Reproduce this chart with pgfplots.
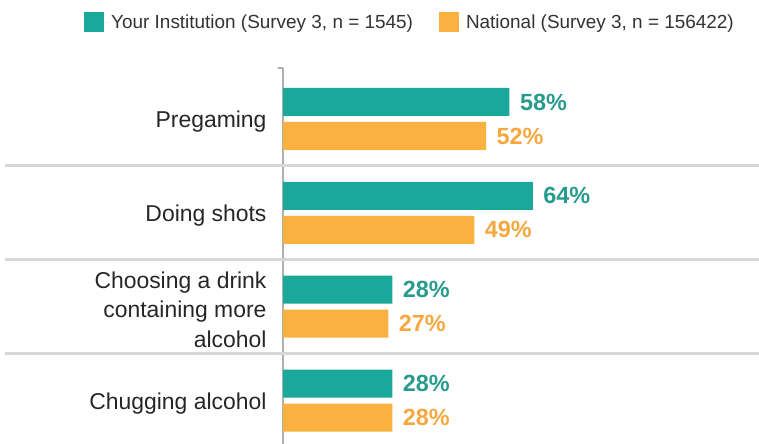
\documentclass[border=0pt]{standalone}
\usepackage{pgfplots}
\pgfplotsset{compat=1.18}
\usepackage{fontspec}
\setmainfont{Liberation Sans}
\definecolor{teal1}{RGB}{26,168,154}
\definecolor{orng}{RGB}{250,177,64}
\definecolor{tealtxt}{RGB}{40,155,142}
\definecolor{orngtxt}{RGB}{246,168,62}
\definecolor{sepgray}{RGB}{215,215,215}
\definecolor{axgray}{RGB}{175,175,175}
\begin{document}
\begin{tikzpicture}
\useasboundingbox (0,0) rectangle (759bp,444bp);
\begin{axis}[
  at={(283bp,0bp)}, anchor=south west,
  scale only axis, width=476bp, height=376bp,
  xmin=0, xmax=121.9, ymin=-0.543, ymax=3.463, y dir=reverse,
  axis x line=none, axis y line*=left,
  axis line style={draw=axgray, line width=1.5bp},
  ytick={0,1,2,3},
  yticklabels={Pregaming, Doing shots, {Choosing a drink\\containing more\\alcohol}, Chugging alcohol},
  yticklabel style={align=right, font=\fontsize{23}{29.5}\selectfont, text=black!85, xshift=-13bp, yshift=-3bp},
  major tick length=0,
  xbar, bar width=28bp,
  clip=false,
  point meta=x,
  /pgf/number format/assume math mode=true,
  nodes near coords={\pgfmathprintnumber{\pgfplotspointmeta}\%},
  nodes near coords style={font=\bfseries\fontsize{23.5}{27}\selectfont, anchor=west, xshift=7bp},
  legend style={at={(-0.418,1.149)}, anchor=north west, draw=none, fill=none, inner sep=0pt,
    font=\fontsize{19}{22}\selectfont, text=black!80},
  legend columns=2,
  /tikz/every even column/.append style={column sep=24bp},
  legend cell align=left,
]
\addplot[fill=teal1, draw=none, bar shift=17bp, nodes near coords style={text=tealtxt},
  legend image code/.code={\fill[teal1] (0bp,-10bp) rectangle (20bp,10bp); \path (0bp,0bp) -- (25bp,0bp);}]
  coordinates {(58,0) (64,1) (28,2) (28,3)};
\addlegendentry{Your Institution (Survey 3, n = 1545)}
\addplot[fill=orng, draw=none, bar shift=-17bp, nodes near coords style={text=orngtxt},
  legend image code/.code={\fill[orng] (0bp,-10bp) rectangle (20bp,10bp); \path (0bp,0bp) -- (25bp,0bp);}]
  coordinates {(52,0) (49,1) (27,2) (28,3)};
\addlegendentry{National (Survey 3, n = 156422)}
\draw[sepgray, line width=3bp] (axis cs:-71.2,0.5) -- (axis cs:121.9,0.5);
\draw[sepgray, line width=3bp] (axis cs:-71.2,1.5) -- (axis cs:121.9,1.5);
\draw[sepgray, line width=3bp] (axis cs:-71.2,2.5) -- (axis cs:121.9,2.5);
\draw[axgray, line width=1.5bp] (axis cs:0,-0.543) -- (axis cs:-1.4,-0.543);
\end{axis}
\end{tikzpicture}
\end{document}
